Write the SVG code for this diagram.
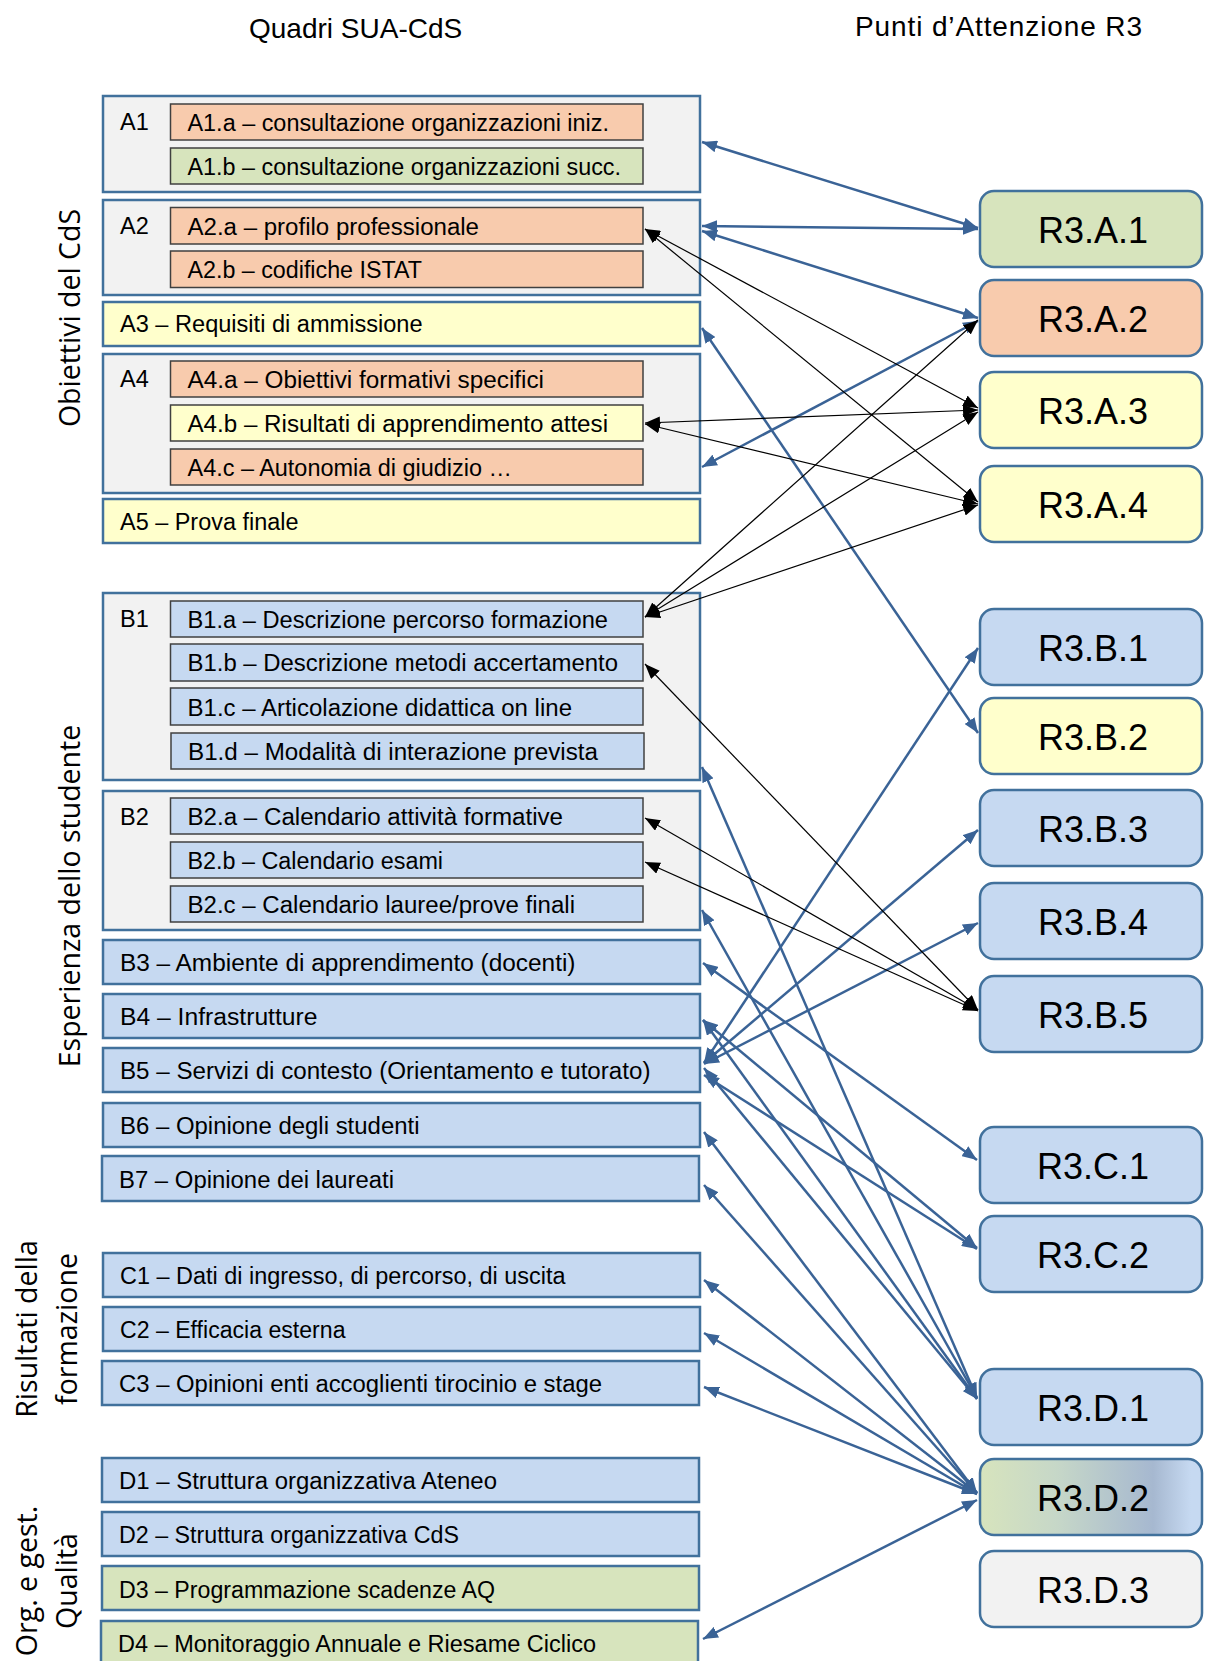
<svg xmlns="http://www.w3.org/2000/svg" width="1205" height="1661" viewBox="0 0 1205 1661">
<style>
.grp{fill:#f2f2f2;stroke:#41719c;stroke-width:2.5}
.full{stroke:#41719c;stroke-width:2.5}
.inner{stroke:#404040;stroke-width:1.5}
.pe{fill:#f8cbad}.gr{fill:#d7e4bd}.ye{fill:#ffffcc}.bl{fill:#c6d9f1}.gy{fill:#f2f2f2}
.r3{stroke:#41719c;stroke-width:2.5}
.t{font-family:"Liberation Sans",Arial,sans-serif;font-size:23.5px;fill:#000}
.rt{font-family:"Liberation Sans",Arial,sans-serif;font-size:36px;text-anchor:middle;fill:#000}
.side{font-family:"Open Sans",sans-serif;font-size:28.5px;text-anchor:middle;fill:#000}
.title{font-family:"Liberation Sans",Arial,sans-serif;font-size:28px;fill:#000}
.cb{stroke:#3a6396;stroke-width:2.5;fill:none;marker-start:url(#ab);marker-end:url(#ab)}
.ck{stroke:#000;stroke-width:1.2;fill:none;marker-start:url(#ak);marker-end:url(#ak)}
</style>
<defs>
<marker id="ab" markerUnits="userSpaceOnUse" markerWidth="15" markerHeight="12" refX="15" refY="6" orient="auto-start-reverse"><path d="M0,0 L15,6 L0,12 z" fill="#3a6396"/></marker>
<marker id="ak" markerUnits="userSpaceOnUse" markerWidth="15" markerHeight="12" refX="15" refY="6" orient="auto-start-reverse"><path d="M0,0 L15,6 L0,12 z" fill="#000"/></marker>
<linearGradient id="gd2" x1="0" y1="0" x2="1" y2="0">
<stop offset="0" stop-color="#d7e4bd"/><stop offset="0.35" stop-color="#c6d7c8"/><stop offset="0.78" stop-color="#a6b8d0"/><stop offset="0.95" stop-color="#c6d9f1"/><stop offset="1" stop-color="#c6d9f1"/>
</linearGradient>
</defs>

<text class="title" x="249" y="38">Quadri SUA-CdS</text>
<text class="title" x="855" y="36" textLength="287">Punti d’Attenzione R3</text>

<g id="side-labels">
<text class="side" transform="translate(80,318) rotate(-90)">Obiettivi del CdS</text>
<text class="side" transform="translate(80,896) rotate(-90)">Esperienza dello studente</text>
<text class="side" transform="translate(37,1329) rotate(-90)">Risultati della</text>
<text class="side" transform="translate(77,1329) rotate(-90)">formazione</text>
<text class="side" transform="translate(37,1581) rotate(-90)">Org. e gest.</text>
<text class="side" transform="translate(77,1581) rotate(-90)">Qualità</text>
</g>

<g id="A1">
<rect class="grp" x="103" y="96" width="597" height="96"/>
<text class="t" x="120" y="130">A1</text>
<rect class="inner pe" x="170.5" y="104" width="472.5" height="36"/>
<text class="t" x="187.5" y="131" textLength="421.5" lengthAdjust="spacingAndGlyphs">A1.a – consultazione organizzazioni iniz.</text>
<rect class="inner gr" x="170.5" y="148" width="472.5" height="36"/>
<text class="t" x="187.5" y="175" textLength="433.5" lengthAdjust="spacingAndGlyphs">A1.b – consultazione organizzazioni succ.</text>
</g>
<g id="A2">
<rect class="grp" x="103" y="200" width="597" height="95"/>
<text class="t" x="120" y="234">A2</text>
<rect class="inner pe" x="170.5" y="207.5" width="472.5" height="36.5"/>
<text class="t" x="187.5" y="235" textLength="291.5" lengthAdjust="spacingAndGlyphs">A2.a – profilo professionale</text>
<rect class="inner pe" x="170.5" y="251" width="472.5" height="36.5"/>
<text class="t" x="187.5" y="278" textLength="234.5" lengthAdjust="spacingAndGlyphs">A2.b – codifiche ISTAT</text>
</g>
<g id="A3">
<rect class="full ye" x="103" y="302" width="597" height="44"/>
<text class="t" x="120" y="332" textLength="302.5" lengthAdjust="spacingAndGlyphs">A3 – Requisiti di ammissione</text>
</g>
<g id="A4">
<rect class="grp" x="103" y="354" width="597" height="139"/>
<text class="t" x="120" y="387">A4</text>
<rect class="inner pe" x="170.5" y="361" width="472.5" height="36"/>
<text class="t" x="187.5" y="388" textLength="356.5" lengthAdjust="spacingAndGlyphs">A4.a – Obiettivi formativi specifici</text>
<rect class="inner ye" x="170.5" y="405" width="472.5" height="36"/>
<text class="t" x="187.5" y="432" textLength="420.5" lengthAdjust="spacingAndGlyphs">A4.b – Risultati di apprendimento attesi</text>
<rect class="inner pe" x="170.5" y="449" width="472.5" height="36"/>
<text class="t" x="187.5" y="476" textLength="324.5" lengthAdjust="spacingAndGlyphs">A4.c – Autonomia di giudizio …</text>
</g>
<g id="A5">
<rect class="full ye" x="103" y="499" width="597" height="44"/>
<text class="t" x="120" y="530" textLength="178.5" lengthAdjust="spacingAndGlyphs">A5 – Prova finale</text>
</g>

<g id="B1">
<rect class="grp" x="103" y="593" width="597" height="187"/>
<text class="t" x="120" y="627">B1</text>
<rect class="inner bl" x="170.5" y="601" width="472.5" height="36"/>
<text class="t" x="187.5" y="628" textLength="420.5" lengthAdjust="spacingAndGlyphs">B1.a – Descrizione percorso formazione</text>
<rect class="inner bl" x="170.5" y="644" width="472.5" height="37"/>
<text class="t" x="187.5" y="671" textLength="430.5" lengthAdjust="spacingAndGlyphs">B1.b – Descrizione metodi accertamento</text>
<rect class="inner bl" x="170.5" y="688" width="472.5" height="37"/>
<text class="t" x="187.5" y="716" textLength="384.5" lengthAdjust="spacingAndGlyphs">B1.c – Articolazione didattica on line</text>
<rect class="inner bl" x="171" y="733" width="473" height="36"/>
<text class="t" x="188" y="760" textLength="410" lengthAdjust="spacingAndGlyphs">B1.d – Modalità di interazione prevista</text>
</g>
<g id="B2">
<rect class="grp" x="103" y="791" width="597" height="139"/>
<text class="t" x="120" y="825">B2</text>
<rect class="inner bl" x="170.5" y="798" width="472.5" height="36"/>
<text class="t" x="187.5" y="825" textLength="375.5" lengthAdjust="spacingAndGlyphs">B2.a – Calendario attività formative</text>
<rect class="inner bl" x="170.5" y="842" width="472.5" height="36"/>
<text class="t" x="187.5" y="869" textLength="255.5" lengthAdjust="spacingAndGlyphs">B2.b – Calendario esami</text>
<rect class="inner bl" x="170.5" y="886" width="472.5" height="36"/>
<text class="t" x="187.5" y="913" textLength="387.5" lengthAdjust="spacingAndGlyphs">B2.c – Calendario lauree/prove finali</text>
</g>
<g id="B3"><rect class="full bl" x="103" y="940" width="597" height="44"/><text class="t" x="120" y="971" textLength="455.5" lengthAdjust="spacingAndGlyphs">B3 – Ambiente di apprendimento (docenti)</text></g>
<g id="B4"><rect class="full bl" x="103" y="994" width="597" height="44"/><text class="t" x="120" y="1025" textLength="197.5" lengthAdjust="spacingAndGlyphs">B4 – Infrastrutture</text></g>
<g id="B5"><rect class="full bl" x="103" y="1048" width="597" height="44"/><text class="t" x="120" y="1079" textLength="530.5" lengthAdjust="spacingAndGlyphs">B5 – Servizi di contesto (Orientamento e tutorato)</text></g>
<g id="B6"><rect class="full bl" x="103" y="1103" width="597" height="44"/><text class="t" x="120" y="1134" textLength="299.5" lengthAdjust="spacingAndGlyphs">B6 – Opinione degli studenti</text></g>
<g id="B7"><rect class="full bl" x="102" y="1156" width="597" height="45"/><text class="t" x="119" y="1188" textLength="275" lengthAdjust="spacingAndGlyphs">B7 – Opinione dei laureati</text></g>

<g id="C1"><rect class="full bl" x="103" y="1253" width="597" height="44"/><text class="t" x="120" y="1284" textLength="445.5" lengthAdjust="spacingAndGlyphs">C1 – Dati di ingresso, di percorso, di uscita</text></g>
<g id="C2"><rect class="full bl" x="103" y="1307" width="597" height="44"/><text class="t" x="120" y="1338" textLength="225.5" lengthAdjust="spacingAndGlyphs">C2 – Efficacia esterna</text></g>
<g id="C3"><rect class="full bl" x="102" y="1361" width="597" height="44"/><text class="t" x="119" y="1392" textLength="483" lengthAdjust="spacingAndGlyphs">C3 – Opinioni enti accoglienti tirocinio e stage</text></g>

<g id="D1"><rect class="full bl" x="102" y="1458" width="597" height="44"/><text class="t" x="119" y="1489" textLength="378" lengthAdjust="spacingAndGlyphs">D1 – Struttura organizzativa Ateneo</text></g>
<g id="D2"><rect class="full bl" x="102" y="1512" width="597" height="44"/><text class="t" x="119" y="1543" textLength="340" lengthAdjust="spacingAndGlyphs">D2 – Struttura organizzativa CdS</text></g>
<g id="D3"><rect class="full gr" x="102" y="1566" width="597" height="44"/><text class="t" x="119" y="1598" textLength="376" lengthAdjust="spacingAndGlyphs">D3 – Programmazione scadenze AQ</text></g>
<g id="D4"><rect class="full gr" x="101" y="1621" width="597" height="46"/><text class="t" x="118" y="1652" textLength="478" lengthAdjust="spacingAndGlyphs">D4 – Monitoraggio Annuale e Riesame Ciclico</text></g>

<g id="R3A1"><rect class="r3 gr" x="980" y="191" width="222" height="76" rx="14"/><text class="rt" x="1093" y="243">R3.A.1</text></g>
<g id="R3A2"><rect class="r3 pe" x="980" y="280" width="222" height="76" rx="14"/><text class="rt" x="1093" y="332">R3.A.2</text></g>
<g id="R3A3"><rect class="r3 ye" x="980" y="372" width="222" height="76" rx="14"/><text class="rt" x="1093" y="424">R3.A.3</text></g>
<g id="R3A4"><rect class="r3 ye" x="980" y="466" width="222" height="76" rx="14"/><text class="rt" x="1093" y="518">R3.A.4</text></g>
<g id="R3B1"><rect class="r3 bl" x="980" y="609" width="222" height="76" rx="14"/><text class="rt" x="1093" y="661">R3.B.1</text></g>
<g id="R3B2"><rect class="r3 ye" x="980" y="698" width="222" height="76" rx="14"/><text class="rt" x="1093" y="750">R3.B.2</text></g>
<g id="R3B3"><rect class="r3 bl" x="980" y="790" width="222" height="76" rx="14"/><text class="rt" x="1093" y="842">R3.B.3</text></g>
<g id="R3B4"><rect class="r3 bl" x="980" y="883" width="222" height="76" rx="14"/><text class="rt" x="1093" y="935">R3.B.4</text></g>
<g id="R3B5"><rect class="r3 bl" x="980" y="976" width="222" height="76" rx="14"/><text class="rt" x="1093" y="1028">R3.B.5</text></g>
<g id="R3C1"><rect class="r3 bl" x="980" y="1127" width="222" height="76" rx="14"/><text class="rt" x="1093" y="1179">R3.C.1</text></g>
<g id="R3C2"><rect class="r3 bl" x="980" y="1216" width="222" height="76" rx="14"/><text class="rt" x="1093" y="1268">R3.C.2</text></g>
<g id="R3D1"><rect class="r3 bl" x="980" y="1369" width="222" height="76" rx="14"/><text class="rt" x="1093" y="1421">R3.D.1</text></g>
<g id="R3D2"><rect class="r3" fill="url(#gd2)" x="980" y="1459" width="222" height="76" rx="14"/><text class="rt" x="1093" y="1511">R3.D.2</text></g>
<g id="R3D3"><rect class="r3 gy" x="980" y="1551" width="222" height="76" rx="14"/><text class="rt" x="1093" y="1603">R3.D.3</text></g>

<g id="connectors">
<line class="cb" x1="702" y1="142" x2="978" y2="228"/>
<line class="cb" x1="702" y1="226" x2="978" y2="229"/>
<line class="cb" x1="702" y1="231" x2="978" y2="318"/>
<line class="cb" x1="702" y1="467" x2="978" y2="321"/>
<line class="cb" x1="702" y1="328" x2="978" y2="733"/>
<line class="cb" x1="704" y1="1063" x2="978" y2="648"/>
<line class="cb" x1="704" y1="1063" x2="978" y2="830"/>
<line class="cb" x1="704" y1="1064" x2="978" y2="923"/>
<line class="cb" x1="702" y1="767" x2="977" y2="1398"/>
<line class="cb" x1="702" y1="910" x2="977" y2="1398"/>
<line class="cb" x1="703" y1="963" x2="977" y2="1160"/>
<line class="cb" x1="703" y1="1020" x2="977" y2="1248"/>
<line class="cb" x1="703" y1="1020" x2="977" y2="1399"/>
<line class="cb" x1="704" y1="1068" x2="977" y2="1399"/>
<line class="cb" x1="704" y1="1075" x2="977" y2="1249"/>
<line class="cb" x1="704" y1="1132" x2="977" y2="1493"/>
<line class="cb" x1="704" y1="1185" x2="977" y2="1493"/>
<line class="cb" x1="704" y1="1280" x2="977" y2="1493"/>
<line class="cb" x1="704" y1="1333" x2="977" y2="1494"/>
<line class="cb" x1="704" y1="1387" x2="977" y2="1494"/>
<line class="cb" x1="703" y1="1639" x2="977" y2="1500"/>
<line class="ck" x1="645" y1="229" x2="978" y2="408"/>
<line class="ck" x1="645" y1="229" x2="978" y2="502"/>
<line class="ck" x1="645" y1="423" x2="978" y2="410"/>
<line class="ck" x1="645" y1="424" x2="978" y2="504"/>
<line class="ck" x1="645" y1="617" x2="978" y2="320"/>
<line class="ck" x1="645" y1="617" x2="978" y2="412"/>
<line class="ck" x1="645" y1="617" x2="978" y2="505"/>
<line class="ck" x1="645" y1="664" x2="978" y2="1010"/>
<line class="ck" x1="645" y1="818" x2="978" y2="1010"/>
<line class="ck" x1="645" y1="862" x2="978" y2="1011"/>
</g>
</svg>
